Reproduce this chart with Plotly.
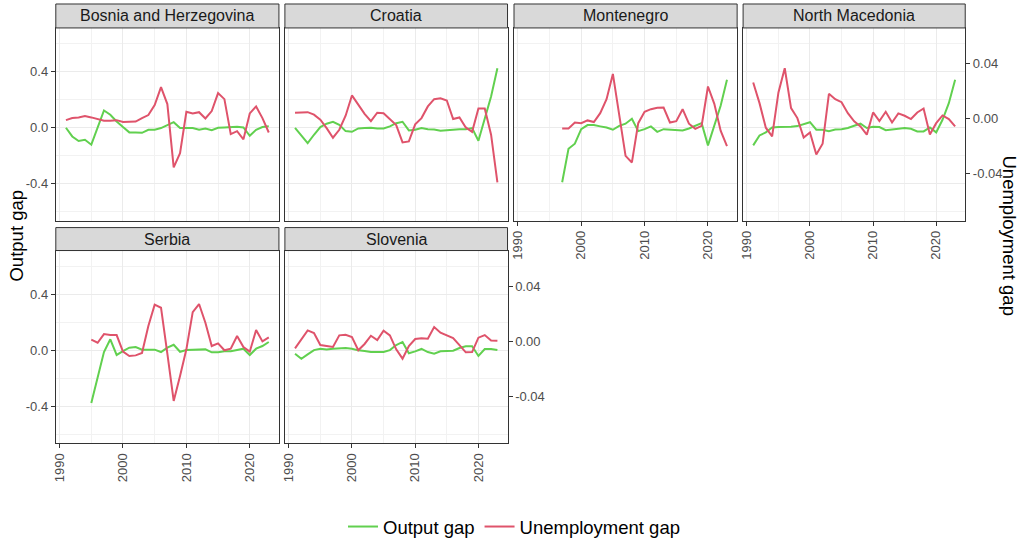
import plotly.graph_objects as go

countries = ["Bosnia and Herzegovina", "Croatia", "Montenegro",
             "North Macedonia", "Serbia", "Slovenia"]
start_years = [1991, 1991, 1997, 1991, 1995, 1991]
end_year = 2023

output_gap_bih = [0.0, -0.062, -0.095, -0.086, -0.121, 0.0, 0.124, 0.093, 0.045, 0.005,
                  -0.033, -0.033, -0.036, -0.014, -0.014, -0.002, 0.017, 0.040, -0.002, -0.002,
                  -0.002, -0.014, -0.005, -0.017, 0.0, 0.002, 0.005, 0.007, 0.002, -0.057,
                  -0.014, 0.005, 0.01]
unemp_gap_bih = [-0.001, 0.0005, 0.001, 0.002, 0.001, 0.0, -0.0015, -0.0015, -0.001, -0.0024,
                 -0.002, -0.002, 0.0005, 0.0027, 0.010, 0.023, 0.0107, -0.0354, -0.025, 0.0051,
                 0.0039, 0.0048, 0.0002, 0.0056, 0.0187, 0.0143, -0.0112, -0.009, -0.015, 0.0039,
                 0.009, 0.0005, -0.010]

output_gap_hrv = [0.0, -0.055, -0.11, -0.05, 0.005, 0.029, 0.043, 0.021, -0.024, -0.029,
                  -0.005, -0.002, 0.0, -0.005, -0.005, 0.01, 0.033, 0.043, -0.019, -0.014,
                  -0.002, -0.01, -0.012, -0.021, -0.017, -0.012, -0.01, -0.01, -0.002, -0.093,
                  0.057, 0.224, 0.426]
unemp_gap_hrv = [0.0044, 0.0046, 0.0048, 0.003, -0.0007, -0.0068, -0.0138, -0.008, 0.0022, 0.017,
                 0.0102, 0.0036, -0.0017, 0.0044, 0.0041, 0.0, -0.0046, -0.0172, -0.0165, -0.0041,
                 0.0005, 0.009, 0.0143, 0.015, 0.0133, -0.0002, 0.001, -0.0063, -0.0095, 0.0075,
                 0.0075, -0.0116, -0.0463]

output_gap_mne = [-0.39, -0.15, -0.114, -0.01, 0.019, 0.019, 0.01, 0.002, -0.014, 0.014,
                  0.029, 0.064, -0.024, -0.01, 0.01, -0.029, -0.01, -0.012, -0.012, -0.019,
                  -0.005, 0.014, 0.033, -0.126, 0.014, 0.157, 0.343]
unemp_gap_mne = [-0.007, -0.007, -0.0027, -0.0032, -0.0012, -0.0024, 0.0041, 0.0143, 0.0327, 0.003,
                 -0.027, -0.0318, -0.0032, 0.0051, 0.007, 0.008, 0.0082, -0.0027, -0.0017, 0.007,
                 -0.0036, -0.0073, -0.0051, 0.0235, 0.0109, -0.0087, -0.020]

output_gap_mkd = [-0.126, -0.055, -0.033, 0.002, 0.005, 0.005, 0.007, 0.012, 0.024, 0.04,
                  -0.014, -0.014, -0.024, -0.012, -0.01, -0.002, 0.014, 0.029, -0.002, 0.007,
                  0.005, -0.017, -0.012, -0.007, -0.002, -0.007, -0.026, -0.026, 0.002, -0.033,
                  0.057, 0.176, 0.343]
unemp_gap_mkd = [0.0264, 0.0114, -0.0065, -0.0128, 0.0192, 0.0368, 0.0078, 0.0005, -0.0136, -0.0099,
                 -0.026, -0.0182, 0.0182, 0.0143, 0.0121, 0.0041, -0.0019, -0.0056, -0.0116, 0.0046,
                 -0.0017, 0.0051, -0.0027, 0.0039, 0.0022, -0.0002, 0.0046, 0.0075, -0.0114, -0.0032,
                 0.0024, -0.0002, -0.0056]

output_gap_srb = [-0.376, -0.183, -0.012, 0.079, -0.033, -0.005, 0.019, 0.024, 0.005, 0.005,
                  0.005, -0.012, 0.019, 0.04, -0.01, 0.002, 0.002, 0.002, 0.007, -0.014,
                  -0.014, -0.007, -0.007, 0.002, 0.012, -0.033, 0.012, 0.031, 0.06]
unemp_gap_srb = [0.0012, -0.001, 0.0053, 0.0046, 0.0046, -0.0075, -0.0107, -0.0102, -0.0085, 0.0112,
                 0.0267, 0.0245, -0.009, -0.0434, -0.0252, -0.0058, 0.0213, 0.0272, 0.0136, -0.0034,
                 -0.0015, -0.0065, -0.0053, 0.0039, -0.0041, -0.0075, 0.0082, 0.0, 0.0029]

output_gap_svn = [-0.024, -0.06, -0.029, 0.002, 0.012, 0.007, 0.012, 0.014, 0.017, 0.012,
                  0.0, -0.005, -0.012, -0.012, -0.012, 0.002, 0.038, 0.06, -0.021, -0.007,
                  0.01, -0.012, -0.024, -0.007, -0.005, -0.002, 0.017, 0.029, 0.029, -0.04,
                  0.01, 0.01, 0.002]
unemp_gap_svn = [-0.0051, 0.0019, 0.008, 0.0061, -0.0027, -0.0034, -0.0041, 0.0044, 0.0048, 0.0032,
                 -0.0065, -0.0019, 0.0041, 0.001, 0.0078, 0.0044, -0.0058, -0.0126, -0.0034, 0.0017,
                 0.0022, 0.0019, 0.0104, 0.0063, 0.0041, 0.0024, -0.0027, -0.008, -0.0078, 0.0027,
                 0.0046, 0.0007, 0.0005]

output_series = [output_gap_bih, output_gap_hrv, output_gap_mne,
                 output_gap_mkd, output_gap_srb, output_gap_svn]
unemp_series = [unemp_gap_bih, unemp_gap_hrv, unemp_gap_mne,
                unemp_gap_mkd, unemp_gap_srb, unemp_gap_svn]

x_ticks = [1990, 2000, 2010, 2020]
y_ticks = [-0.4, 0.0, 0.4]
y_ticklabels = ["-0.4", "0.0", "0.4"]
y2_ticks = [-0.04, 0.0, 0.04]
y2_ticklabels = ["-0.04", "0.00", "0.04"]

# secondary axis transform (output = k * unemp + offset)
sec_scale = 9.82
sec_offset = 0.0643

W, H = 1024, 546
GREEN = "#61D04F"
RED = "#DF536B"
FONT = "Liberation Sans, Arial, sans-serif"
TICKFONT = dict(family=FONT, size=13, color="#4D4D4D")

cols_px = [(52, 276), (282, 505.5), (512, 736), (742, 965)]
rows_px = [(28, 221), (251, 444)]
strips_px = [(4, 28), (228, 251)]
positions = [(0, 0), (0, 1), (0, 2), (0, 3), (1, 0), (1, 1)]

y_range = [-0.664, 0.714]
y2_range = [(y_range[0] - sec_offset) / sec_scale, (y_range[1] - sec_offset) / sec_scale]
x_range = [1989.4, 2024.6]

fig = go.Figure()
layout = {}
shapes = []
annotations = []

for i, name in enumerate(countries):
    n = i + 1
    r, c = positions[i]
    yrs = list(range(start_years[i], end_year + 1))
    xs = "x" if n == 1 else f"x{n}"
    ys = "y" if n == 1 else f"y{n}"
    y2s = f"y{n + 6}"
    fig.add_trace(go.Scatter(x=yrs, y=output_series[i], mode="lines",
                             line=dict(color=GREEN, width=2), name="Output gap",
                             legendgroup="og", showlegend=(i == 0),
                             xaxis=xs, yaxis=ys))
    fig.add_trace(go.Scatter(x=yrs, y=unemp_series[i], mode="lines",
                             line=dict(color=RED, width=2), name="Unemployment gap",
                             legendgroup="ug", showlegend=(i == 0),
                             xaxis=xs, yaxis=y2s))

    l, rr = cols_px[c]
    t, b = rows_px[r]
    xdom = [l / W, rr / W]
    ydom = [1 - b / H, 1 - t / H]
    show_x = name in ("Montenegro", "North Macedonia", "Serbia", "Slovenia")
    show_y = c == 0
    show_y2 = name in ("North Macedonia", "Slovenia")

    xkey = "xaxis" if n == 1 else f"xaxis{n}"
    ykey = "yaxis" if n == 1 else f"yaxis{n}"
    y2key = f"yaxis{n + 6}"
    layout[xkey] = dict(domain=xdom, anchor=ys, range=x_range,
                        tickvals=x_ticks, ticktext=[str(v) for v in x_ticks],
                        showticklabels=show_x, ticks="outside" if show_x else "",
                        ticklen=4, tickwidth=1, tickcolor="#333333", tickangle=-90,
                        tickfont=TICKFONT, showgrid=True, gridcolor="#EBEBEB", gridwidth=1,
                        minor=dict(tickvals=[1995, 2005, 2015], showgrid=True,
                                   gridcolor="#F2F2F2", gridwidth=0.6, ticks=""),
                        zeroline=False, showline=True, linecolor="#333333",
                        linewidth=1, mirror=True, fixedrange=True)
    layout[ykey] = dict(domain=ydom, anchor=xs, range=y_range,
                        tickvals=y_ticks, ticktext=y_ticklabels,
                        showticklabels=show_y, ticks="outside" if show_y else "",
                        ticklen=4, tickwidth=1, tickcolor="#333333",
                        tickfont=TICKFONT, showgrid=True, gridcolor="#EBEBEB", gridwidth=1,
                        minor=dict(tickvals=[-0.6, -0.2, 0.2, 0.6], showgrid=True,
                                   gridcolor="#F2F2F2", gridwidth=0.6, ticks=""),
                        zeroline=False, showline=True, linecolor="#333333",
                        linewidth=1, mirror=True, fixedrange=True)
    layout[y2key] = dict(overlaying=ys, anchor=xs, side="right", range=y2_range,
                         tickvals=y2_ticks, ticktext=y2_ticklabels,
                         showticklabels=show_y2, ticks="outside" if show_y2 else "",
                         ticklen=4, tickwidth=1, tickcolor="#333333",
                         tickfont=TICKFONT, showgrid=False, zeroline=False,
                         showline=False, fixedrange=True)

    st, sb = strips_px[r]
    shapes.append(dict(type="rect", xref="paper", yref="paper",
                       x0=l / W, x1=rr / W, y0=1 - sb / H, y1=1 - st / H,
                       fillcolor="#D9D9D9", line=dict(color="#333333", width=1),
                       layer="above"))
    annotations.append(dict(text=name, xref="paper", yref="paper",
                            x=(l + rr) / 2 / W, y=1 - (st + sb) / 2 / H,
                            xanchor="center", yanchor="middle", showarrow=False,
                            font=dict(family=FONT, size=16, color="#1A1A1A")))

annotations.append(dict(text="Output gap", xref="paper", yref="paper",
                        x=13 / W, y=1 - 236 / H, textangle=-90, showarrow=False,
                        xanchor="center", yanchor="middle",
                        font=dict(family=FONT, size=18.5, color="black")))
annotations.append(dict(text="Unemployment gap", xref="paper", yref="paper",
                        x=1009 / W, y=1 - 236 / H, textangle=90, showarrow=False,
                        xanchor="center", yanchor="middle",
                        font=dict(family=FONT, size=18.5, color="black")))

fig.update_layout(**layout)
fig.update_layout(width=W, height=H, autosize=False,
                  margin=dict(l=0, r=0, t=0, b=0),
                  paper_bgcolor="white", plot_bgcolor="white",
                  shapes=shapes, annotations=annotations,
                  showlegend=True,
                  legend=dict(orientation="h", x=0.5, xanchor="center",
                              y=1 - 528 / H, yanchor="middle",
                              font=dict(family=FONT, size=18.5, color="black"),
                              bgcolor="rgba(0,0,0,0)", itemwidth=30,
                              tracegroupgap=0))

fig.write_html("out.html", config={"displayModeBar": False},
               post_script="document.body.style.margin='0';")
